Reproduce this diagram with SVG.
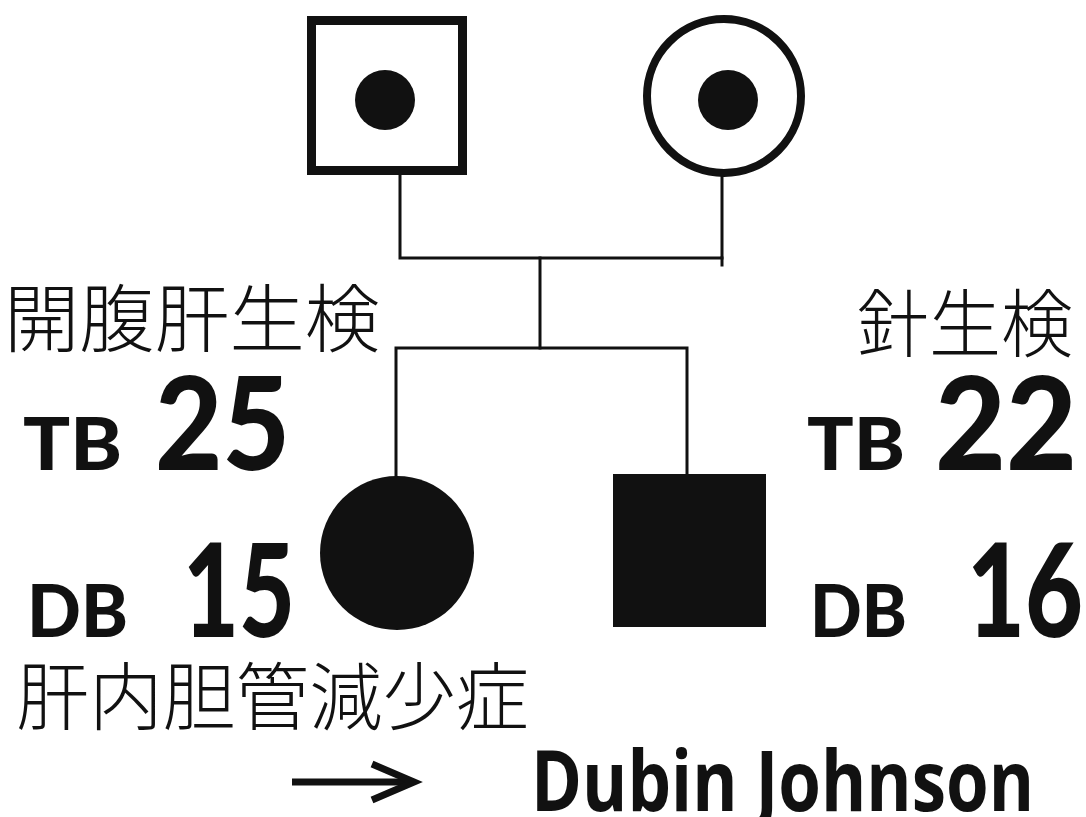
<svg xmlns="http://www.w3.org/2000/svg" width="1086" height="817" viewBox="0 0 1086 817">
  <style>
    .sym { fill: #fff; stroke: #111; }
    .aff { fill: #111; stroke: none; }
    .conn { fill: none; stroke: #111; stroke-width: 3; stroke-linecap: square; }
    .cjk { font-family: "Noto Sans CJK JP", "Noto Sans CJK SC", sans-serif; font-weight: 300; fill: #111; }
    .lab { font-family: "Lato", "Open Sans", "Liberation Sans", sans-serif; font-weight: 900; fill: #111; }
    .dj { font-family: "Open Sans", "Liberation Sans", sans-serif; font-weight: 700; fill: #111; }
  </style>
  <rect width="1086" height="817" fill="#fff"/>
  <g id="connectors">
    <path class="conn" d="M400 175 V258 H722 V176"/>
    <path class="conn" d="M722 258 V265"/>
    <path class="conn" d="M540 258 V348"/>
    <path class="conn" d="M396 476 V348 H687 V476"/>
  </g>
  <g id="father">
    <rect class="sym" x="311.5" y="20.5" width="151" height="150" stroke-width="9"/>
    <circle class="aff" cx="385" cy="100" r="30"/>
  </g>
  <g id="mother">
    <circle class="sym" cx="724" cy="96" r="77" stroke-width="8"/>
    <circle class="aff" cx="728" cy="100" r="30"/>
  </g>
  <g id="daughter">
    <circle class="aff" cx="397" cy="553" r="77"/>
  </g>
  <g id="son">
    <rect class="aff" x="613" y="474" width="153" height="153"/>
  </g>
  <g id="labels">
    <text class="cjk" x="4" y="346" font-size="74" textLength="376" lengthAdjust="spacingAndGlyphs">開腹肝生検</text>
    <text class="lab" x="23" y="470" font-size="73" textLength="99" lengthAdjust="spacingAndGlyphs">TB</text>
    <text class="lab" x="155" y="470" font-size="129" textLength="135" lengthAdjust="spacingAndGlyphs">25</text>
    <text class="lab" x="27" y="637" font-size="73" textLength="101" lengthAdjust="spacingAndGlyphs">DB</text>
    <text class="lab" x="183" y="637" font-size="129" textLength="112" lengthAdjust="spacingAndGlyphs">15</text>
    <text class="cjk" x="857" y="351" font-size="74" textLength="216" lengthAdjust="spacingAndGlyphs">針生検</text>
    <text class="lab" x="807" y="470" font-size="73" textLength="98" lengthAdjust="spacingAndGlyphs">TB</text>
    <text class="lab" x="935" y="470" font-size="129" textLength="142" lengthAdjust="spacingAndGlyphs">22</text>
    <text class="lab" x="810" y="637" font-size="73" textLength="97" lengthAdjust="spacingAndGlyphs">DB</text>
    <text class="lab" x="967" y="637" font-size="129" textLength="116" lengthAdjust="spacingAndGlyphs">16</text>
    <text class="cjk" x="16" y="724" font-size="74" textLength="513" lengthAdjust="spacingAndGlyphs">肝内胆管減少症</text>
    <text class="dj" x="531" y="811" font-size="85" textLength="503" lengthAdjust="spacingAndGlyphs">Dubin Johnson</text>
  </g>
  <g id="arrow">
    <path d="M292 782 H410" fill="none" stroke="#111" stroke-width="7"/>
    <path d="M372 764 L414 782 L372 800" fill="none" stroke="#111" stroke-width="7" stroke-linejoin="miter"/>
  </g>
</svg>
